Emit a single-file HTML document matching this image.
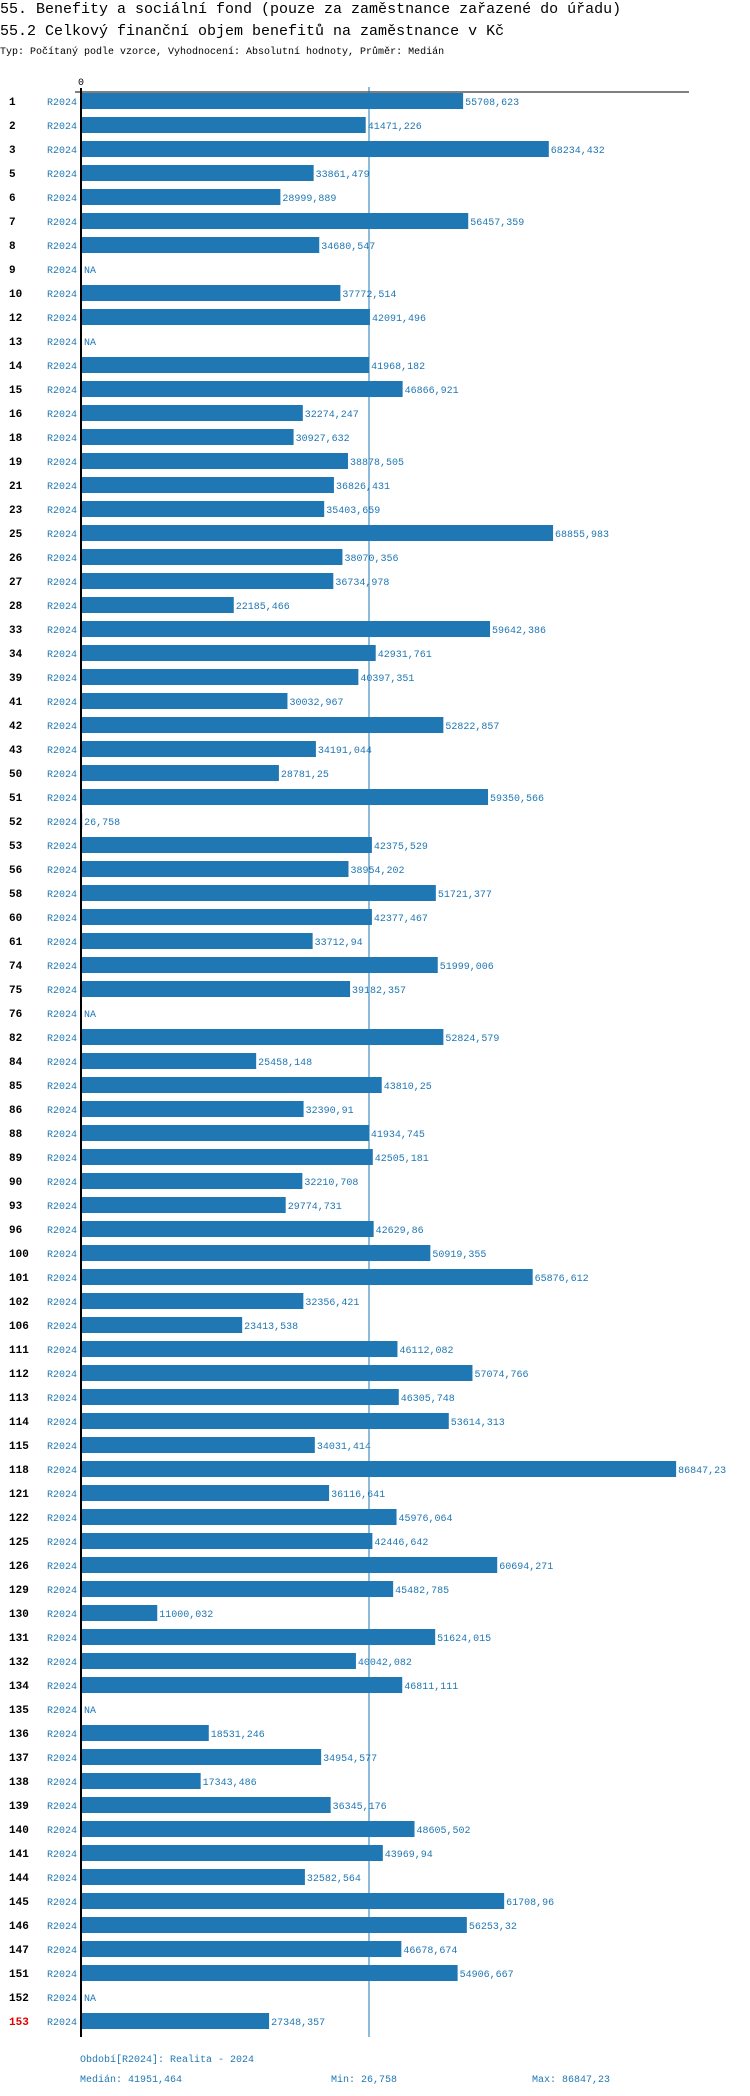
<!DOCTYPE html>
<html><head><meta charset="utf-8">
<style>
body{margin:0;background:#fff;width:750px;height:2096px;overflow:hidden;font-family:"Liberation Mono","DejaVu Sans Mono",monospace;}
svg{display:block}
</style></head><body>
<svg id="chart" width="750" height="2096" xmlns="http://www.w3.org/2000/svg" font-family="Liberation Mono, DejaVu Sans Mono, monospace">
<text x="0" y="13" font-size="15" fill="#000">55. Benefity a sociální fond (pouze za zaměstnance zařazené do úřadu)</text>
<text x="0" y="35" font-size="15" fill="#000">55.2 Celkový finanční objem benefitů na zaměstnance v Kč</text>
<text x="0" y="54" font-size="10" fill="#000">Typ: Počítaný podle vzorce, Vyhodnocení: Absolutní hodnoty, Průměr: Medián</text>
<text x="78" y="85" font-size="10" fill="#000">0</text>
<line x1="75" y1="92" x2="689" y2="92" stroke="#000" stroke-width="1"/>
<g id="rows"></g>
<line id="axis" x1="81" y1="88" x2="81" y2="2037" stroke="#000" stroke-width="2"/>
<line id="med" x1="369" y1="87" x2="369" y2="2037" stroke="#1f77b4" stroke-width="1"/>
<text x="80" y="2062" font-size="10" fill="#1f77b4">Období[R2024]: Realita - 2024</text>
<text x="80" y="2082" font-size="10" fill="#1f77b4">Medián: 41951,464</text>
<text x="331" y="2082" font-size="10" fill="#1f77b4">Min: 26,758</text>
<text x="532" y="2082" font-size="10" fill="#1f77b4">Max: 86847,23</text>
</svg>
<script>
const categories=[1,2,3,5,6,7,8,9,10,12,13,14,15,16,18,19,21,23,25,26,27,28,33,34,39,41,42,43,50,51,52,53,56,58,60,61,74,75,76,82,84,85,86,88,89,90,93,96,100,101,102,106,111,112,113,114,115,118,121,122,125,126,129,130,131,132,134,135,136,137,138,139,140,141,144,145,146,147,151,152,153];
const values=[55708.623,41471.226,68234.432,33861.479,28999.889,56457.359,34680.547,null,37772.514,42091.496,null,41968.182,46866.921,32274.247,30927.632,38878.505,36826.431,35403.659,68855.983,38070.356,36734.978,22185.466,59642.386,42931.761,40397.351,30032.967,52822.857,34191.044,28781.25,59350.566,26.758,42375.529,38954.202,51721.377,42377.467,33712.94,51999.006,39182.357,null,52824.579,25458.148,43810.25,32390.91,41934.745,42505.181,32210.708,29774.731,42629.86,50919.355,65876.612,32356.421,23413.538,46112.082,57074.766,46305.748,53614.313,34031.414,86847.23,36116.641,45976.064,42446.642,60694.271,45482.785,11000.032,51624.015,40042.082,46811.111,null,18531.246,34954.577,17343.486,36345.176,48605.502,43969.94,32582.564,61708.96,56253.32,46678.674,54906.667,null,27348.357];
const median=[41951.464];
const highlighted=[153];
const NS="http://www.w3.org/2000/svg";
const x0=82, scale=287/41951.464;
function xs(v){return x0+v*scale;}
function ys(i){return 101+i*24;}
const g=document.getElementById('rows');
function mk(t,a){const e=document.createElementNS(NS,t);for(const k in a)e.setAttribute(k,a[k]);return e;}
categories.forEach((c,i)=>{
  const y=ys(i);
  const n=mk('text',{x:9,y:y+4,'font-size':11,'font-weight':'bold',fill:highlighted.includes(c)?'#e00000':'#000'});
  
  
  n.textContent=c;g.appendChild(n);
  const p=mk('text',{x:47,y:y+4,'font-size':10,fill:'#1f77b4'});
  
  
  p.textContent='R2024';g.appendChild(p);
  const v=values[i];
  let end=x0;
  if(v!==null){
    end=xs(v);
    const r=mk('rect',{x:x0,y:y-8,width:Math.max(0,end-x0),height:16,fill:'#1f77b4'});
    
    
    g.appendChild(r);
  }
  const l=mk('text',{x:end+2,y:y+4,'font-size':10,fill:'#1f77b4'});
  
  
  l.textContent=v===null?'NA':String(v).replace('.',',');
  g.appendChild(l);
});
const mx=xs(median[0]);
const ml=document.getElementById('med');ml.setAttribute('x1',mx);ml.setAttribute('x2',mx);
</script>
</body></html>
